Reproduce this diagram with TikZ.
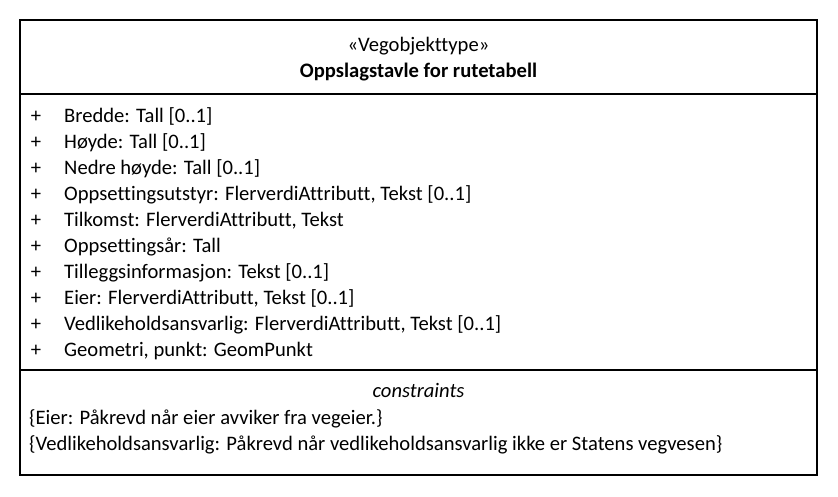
\documentclass[tikz,border=0pt]{standalone}
\usepackage{fontspec}
\setmainfont{Carlito}[Ligatures={NoCommon}]
\begin{document}
\begin{tikzpicture}[x=1pt,y=-1pt,
  txt/.style={inner sep=0pt,anchor=base west,font=\fontsize{20.6}{24}\selectfont},
  ctxt/.style={inner sep=0pt,anchor=base,font=\fontsize{20.6}{24}\selectfont},
  pls/.style={inner sep=0pt,anchor=base,font=\fontsize{20.6}{24}\selectfont},
  frame/.style={draw=black,line width=1.2pt}]
\useasboundingbox (0,0) rectangle (838,496);
\fill[white] (0,0) rectangle (838,496);
\draw[frame] (20,20) rectangle (817,475);
\draw[frame] (20,94) -- (817,94);
\draw[frame] (20,370) -- (817,370);
\node[ctxt] (st) at (418.5,51) {«Vegobjekttype»};
\node[ctxt,font=\fontsize{20.6}{24}\selectfont\bfseries] (nm) at (418.5,77) {Oppslagstavle for rutetabell};
\foreach \t [count=\i from 0] in {
  {Bredde: Tall [0..1]},
  {Høyde: Tall [0..1]},
  {Nedre høyde: Tall [0..1]},
  {Oppsettingsutstyr: FlerverdiAttributt, Tekst [0..1]},
  {Tilkomst: FlerverdiAttributt, Tekst},
  {Oppsettingsår: Tall},
  {Tilleggsinformasjon: Tekst [0..1]},
  {Eier: FlerverdiAttributt, Tekst [0..1]},
  {Vedlikeholdsansvarlig: FlerverdiAttributt, Tekst [0..1]},
  {Geometri, punkt: GeomPunkt}} {
  \node[pls] (p\i) at (36,122+26*\i) {+};
  \node[txt] (a\i) at (64,122+26*\i) {\t};
}
\node[ctxt,font=\fontsize{20.6}{24}\selectfont\itshape] (ch) at (418.5,397.5) {constraints};
\node[txt] (c1) at (29,424) {\{Eier: Påkrevd når eier avviker fra vegeier.\}};
\node[txt] (c2) at (29,450) {\{Vedlikeholdsansvarlig: Påkrevd når vedlikeholdsansvarlig ikke er Statens vegvesen\}};
\end{tikzpicture}
\end{document}
